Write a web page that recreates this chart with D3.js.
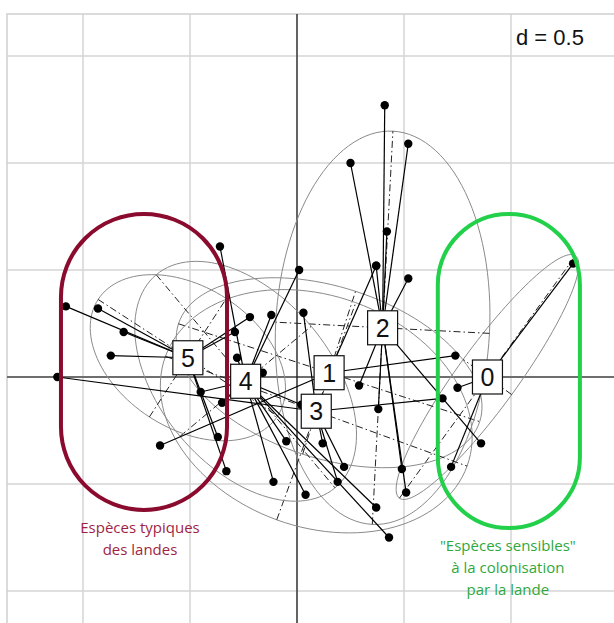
<!DOCTYPE html>
<html>
<head>
<meta charset="utf-8">
<script src="https://cdn.jsdelivr.net/npm/d3@7"></script>
<style>
  body { margin: 0; background: #fff; }
  svg { display: block; }
</style>
</head>
<body>
<script>
// class labels and centroids (factorial map units)
var classes = ["0", "1", "2", "3", "4", "5"];
var classX = [0.89, 0.15, 0.40, 0.09, -0.24, -0.51];
var classY = [0.00, 0.02, 0.23, -0.16, -0.02, 0.09];

// sites: coordinates and class index
var pointX = [1.29, 0.75, 0.72,
              0.37, 0.74, -0.64,
              0.41, 0.52, 0.25, 0.42, 0.37, 0.52, 0.29, 0.38, 0.49, 0.51, 0.86,
              -1.12, 0.03, 0.12, 0.22, 0.19, 0.68,
              -0.36, 0.01, -0.12, -0.28, -0.16, -0.45, 0.02, -0.05, -0.11, 0.04, 0.37, 0.43, -0.35,
              -1.08, -0.93, -0.81, -0.87, -0.22, -0.29, -0.37, -0.33];
var pointY = [0.53, -0.05, -0.42,
              0.52, 0.10, -0.32,
              1.27, 1.09, 1.00, 0.68, 0.52, 0.46, -0.04, -0.15, -0.43, -0.54, -0.31,
              0.00, 0.30, -0.31, -0.42, -0.49, -0.10,
              0.61, 0.50, 0.29, 0.09, 0.02, -0.07, -0.13, -0.30, -0.49, -0.55, -0.61, -0.75, -0.12,
              0.33, 0.32, 0.21, 0.10, 0.28, 0.21, -0.28, -0.44];
var pointClass = [0, 0, 0,
                  1, 1, 1,
                  2, 2, 2, 2, 2, 2, 2, 2, 2, 2, 2,
                  3, 3, 3, 3, 3, 3,
                  4, 4, 4, 4, 4, 4, 4, 4, 4, 4, 4, 4, 4,
                  5, 5, 5, 5, 5, 5, 5, 5];

// inertia ellipses: semi-axes and angle (degrees) per class
var ellA = [0.70, 0.74, 0.92, 0.75, 0.65, 0.50];
var ellB = [0.14, 0.40, 0.50, 0.54, 0.40, 0.33];
var ellAngle = [54, -18, 87, -20, -50, -33];

var gridTicks = [-1, -0.5, 0, 0.5, 1, 1.5];
var gridLabel = "d = 0.5";

// highlighted groups (annotation)
var groupNames = [["Espèces typiques", "des landes"],
                  ["\"Espèces sensibles\"", "à la colonisation", "par la lande"]];
var groupCx = [-0.715, 0.99];
var groupR = [0.388, 0.332];
var groupTop = [0.762, 0.762];
var groupBottom = [-0.621, -0.706];
var groupStroke = ["#8a0b2e", "#22d04a"];
var groupText = ["#9e1f45", "#2fa83c"];

var width = 614, height = 623;
var plot = {left: 7, top: 14, right: 620, bottom: 632};

var xScale = d3.scaleLinear().domain([0, 1]).range([297, 511]);
var yScale = d3.scaleLinear().domain([0, 1]).range([377, 163]);

var svg = d3.select("body").append("svg")
  .attr("width", width)
  .attr("height", height);

// grid
var grid = svg.append("g");
grid.selectAll("line.v").data(gridTicks).enter().append("line")
  .attr("x1", function(d){ return xScale(d); })
  .attr("x2", function(d){ return xScale(d); })
  .attr("y1", plot.top).attr("y2", plot.bottom)
  .attr("stroke", "#d4d4d4").attr("stroke-width", 1.5);
var yTicks = [-1, -0.5, 0, 0.5, 1, 1.5];
grid.selectAll("line.h").data(yTicks).enter().append("line")
  .attr("y1", function(d){ return yScale(d); })
  .attr("y2", function(d){ return yScale(d); })
  .attr("x1", plot.left).attr("x2", plot.right)
  .attr("stroke", "#d4d4d4").attr("stroke-width", 1.5);
svg.append("rect")
  .attr("x", plot.left).attr("y", plot.top)
  .attr("width", plot.right - plot.left).attr("height", plot.bottom - plot.top)
  .attr("fill", "none").attr("stroke", "#cfcfcf").attr("stroke-width", 1.5);

// axes through origin
svg.append("line")
  .attr("x1", plot.left).attr("x2", plot.right)
  .attr("y1", yScale(0)).attr("y2", yScale(0))
  .attr("stroke", "#6e6e6e").attr("stroke-width", 2);
svg.append("line")
  .attr("x1", xScale(0)).attr("x2", xScale(0))
  .attr("y1", plot.top).attr("y2", plot.bottom)
  .attr("stroke", "#111").attr("stroke-width", 1.2);

svg.append("text")
  .attr("x", 516).attr("y", 45)
  .attr("font-family", "Liberation Sans, Arial, sans-serif")
  .attr("font-size", 22)
  .attr("fill", "#111")
  .text(gridLabel);

// ellipses
var line = d3.line()
  .x(function(d){ return xScale(d[0]); })
  .y(function(d){ return yScale(d[1]); });

var ellG = svg.append("g");
classes.forEach(function(c, i) {
  var t = ellAngle[i] * Math.PI / 180;
  var pts = d3.range(0, 361, 3).map(function(deg) {
    var u = deg * Math.PI / 180;
    var ex = ellA[i] * Math.cos(u), ey = ellB[i] * Math.sin(u);
    return [classX[i] + ex * Math.cos(t) - ey * Math.sin(t),
            classY[i] + ex * Math.sin(t) + ey * Math.cos(t)];
  });
  ellG.append("path")
    .attr("d", line(pts))
    .attr("fill", "none")
    .attr("stroke", "#8a8a8a").attr("stroke-width", 1);
  var ca = Math.cos(t), sa = Math.sin(t);
  var axes = [
    [[classX[i] - ellA[i] * ca, classY[i] - ellA[i] * sa], [classX[i] + ellA[i] * ca, classY[i] + ellA[i] * sa]],
    [[classX[i] + ellB[i] * sa, classY[i] - ellB[i] * ca], [classX[i] - ellB[i] * sa, classY[i] + ellB[i] * ca]]
  ];
  axes.forEach(function(a) {
    ellG.append("path")
      .attr("d", line(a))
      .attr("fill", "none")
      .attr("stroke", "#222").attr("stroke-width", 1)
      .attr("stroke-dasharray", "7,3,1.5,3");
  });
});

// star lines
svg.append("g").selectAll("line").data(pointX).enter().append("line")
  .attr("x1", function(d){ return xScale(d); })
  .attr("y1", function(d, i){ return yScale(pointY[i]); })
  .attr("x2", function(d, i){ return xScale(classX[pointClass[i]]); })
  .attr("y2", function(d, i){ return yScale(classY[pointClass[i]]); })
  .attr("stroke", "#000").attr("stroke-width", 1.2);

// points
svg.append("g").selectAll("circle").data(pointX).enter().append("circle")
  .attr("cx", function(d){ return xScale(d); })
  .attr("cy", function(d, i){ return yScale(pointY[i]); })
  .attr("r", 4.2)
  .attr("fill", "#000");

// class labels
var lab = svg.append("g").selectAll("g").data(classes).enter().append("g")
  .attr("transform", function(d, i){ return "translate(" + xScale(classX[i]) + "," + yScale(classY[i]) + ")"; });
lab.append("rect")
  .attr("x", -15).attr("y", -17).attr("width", 30).attr("height", 34)
  .attr("fill", "#fff").attr("stroke", "#111").attr("stroke-width", 1.2);
lab.append("text")
  .attr("text-anchor", "middle")
  .attr("y", 9)
  .attr("font-family", "Liberation Sans, Arial, sans-serif")
  .attr("font-size", 25)
  .attr("fill", "#111")
  .text(function(d){ return d; });

// highlighted groups
groupNames.forEach(function(names, i) {
  var r = xScale(groupR[i]) - xScale(0);
  var x0 = xScale(groupCx[i] - groupR[i]), x1 = xScale(groupCx[i] + groupR[i]);
  var yt = yScale(groupTop[i]) + r, yb = yScale(groupBottom[i]) - r;
  svg.append("path")
    .attr("d", "M" + x0 + "," + yt + " A" + r + "," + r + " 0 0 1 " + x1 + "," + yt +
               " L" + x1 + "," + yb + " A" + r + "," + r + " 0 0 1 " + x0 + "," + yb + " Z")
    .attr("fill", "none")
    .attr("stroke", groupStroke[i]).attr("stroke-width", 4);
  var t = svg.append("text")
    .attr("text-anchor", "middle")
    .attr("font-family", "Open Sans, sans-serif")
    .attr("font-size", 15)
    .attr("fill", groupText[i]);
  names.forEach(function(n, k) {
    t.append("tspan")
      .attr("x", xScale(groupCx[i]) - (i === 0 ? 4 : 1))
      .attr("y", yScale(groupBottom[i]) + 23 + k * 22)
      .text(n);
  });
});
</script>
</body>
</html>
